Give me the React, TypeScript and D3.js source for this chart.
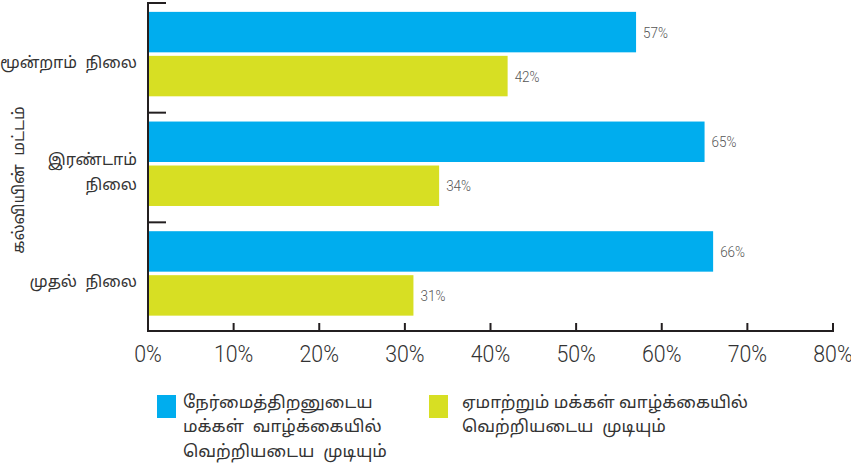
import React, { useEffect, useRef } from 'react';
import * as d3 from 'd3';

const categories = ['மூன்றாம் நிலை', 'இரண்டாம் நிலை', 'முதல் நிலை'];
const categoryLines = [['மூன்றாம்  நிலை'], ['இரண்டாம்', 'நிலை'], ['முதல்  நிலை']];
const honestValues = [57, 65, 66];
const cheatValues = [42, 34, 31];
const xTicks = [0, 10, 20, 30, 40, 50, 60, 70, 80];
const seriesNames = ['honest', 'cheat'];
const legendLines = [
  ['நேர்மைத்திறனுடைய', 'மக்கள்  வாழ்க்கையில்', 'வெற்றியடைய  முடியும்'],
  ['ஏமாற்றும் மக்கள் வாழ்க்கையில்', 'வெற்றியடைய  முடியும்'],
];
const yTitle = 'கல்வியின்  மட்டம்';
const colors = ['#00adee', '#d7df23'];

const W = 851;
const H = 470;
const tamilFont = "'Noto Sans Tamil', 'Lohit Tamil', 'Noto Sans', 'DejaVu Sans', sans-serif";
const numFont = "Roboto, 'Liberation Sans', sans-serif";
const squeeze = 0.87;

const App = () => {
  const svgRef = useRef<SVGSVGElement | null>(null);

  useEffect(() => {
    if (!svgRef.current) return;
    const svg = d3.select(svgRef.current);
    svg.selectAll('*').remove();

    const left = 148;
    const right = 833;
    const top = 2;
    const bottom = 331;

    const x = d3.scaleLinear().domain([0, 80]).range([left, right]);
    const y = d3.scaleBand().domain(categories).range([top, bottom]);
    const inner = d3.scaleBand().domain(seriesNames).range([y.bandwidth() * 0.09, y.bandwidth() * 0.86]).paddingInner(0.08);

    const g = svg.append('g');

    const rows = categories.map((c, i) => ({ c, vals: [honestValues[i], cheatValues[i]], lines: categoryLines[i] }));

    const row = g.selectAll('g.row').data(rows).enter().append('g')
      .attr('transform', d => `translate(0,${y(d.c)})`);

    row.selectAll('rect').data(d => d.vals.map((v, k) => ({ v, k }))).enter().append('rect')
      .attr('x', x(0))
      .attr('y', d => inner(seriesNames[d.k]) as number)
      .attr('width', d => x(d.v) - x(0))
      .attr('height', inner.bandwidth())
      .attr('fill', d => colors[d.k]);

    row.selectAll('text.val').data(d => d.vals.map((v, k) => ({ v, k }))).enter().append('text')
      .attr('class', 'val')
      .attr('transform', d => `translate(${x(d.v) + 7},${(inner(seriesNames[d.k]) as number) + inner.bandwidth() / 2}) scale(${squeeze},1)`)
      .attr('dy', '0.35em')
      .attr('font-family', numFont)
      .attr('font-weight', 300)
      .attr('font-size', 15.5)
      .attr('fill', '#555')
      .text(d => `${d.v}%`);

    row.each(function (d) {
      const sel = d3.select(this);
      const n = d.lines.length;
      const mid = y.bandwidth() * 0.55;
      d.lines.forEach((ln, j) => {
        sel.append('text')
          .attr('x', 137)
          .attr('y', mid + (j - (n - 1) / 2) * 25)
          .attr('dy', '0.35em')
          .attr('text-anchor', 'end')
          .attr('font-family', tamilFont)
          .attr('font-size', 16)
          .attr('fill', '#333')
          .style('white-space', 'pre')
          .text(ln);
      });
    });

    // y ticks at band tops, pointing right
    g.selectAll('line.ytick').data(categories).enter().append('line')
      .attr('x1', left).attr('x2', left + 18)
      .attr('y1', d => (y(d) as number) + 1).attr('y2', d => (y(d) as number) + 1)
      .attr('stroke', '#231f20').attr('stroke-width', 2);

    // axes lines
    g.append('line').attr('x1', left).attr('x2', left).attr('y1', top).attr('y2', bottom + 1)
      .attr('stroke', '#231f20').attr('stroke-width', 2);
    g.append('line').attr('x1', left - 1).attr('x2', right + 1).attr('y1', bottom).attr('y2', bottom)
      .attr('stroke', '#231f20').attr('stroke-width', 2);

    g.selectAll('line.xtick').data(xTicks).enter().append('line')
      .attr('x1', d => x(d)).attr('x2', d => x(d))
      .attr('y1', bottom - 8).attr('y2', bottom)
      .attr('stroke', '#231f20').attr('stroke-width', 2);

    g.selectAll('text.xlab').data(xTicks).enter().append('text')
      .attr('transform', d => `translate(${x(d)},362) scale(${squeeze},1)`)
      .attr('text-anchor', 'middle')
      .attr('font-family', numFont)
      .attr('font-weight', 300)
      .attr('font-size', 24.5)
      .attr('fill', '#333')
      .text(d => `${d}%`);

    g.append('text')
      .attr('transform', `translate(18,180) rotate(-90)`)
      .attr('text-anchor', 'middle')
      .attr('dy', '0.35em')
      .attr('font-family', tamilFont)
      .attr('font-size', 16)
      .attr('fill', '#333')
      .style('white-space', 'pre')
      .text(yTitle);

    // legend
    const legendX = [157, 429];
    legendLines.forEach((lines, k) => {
      g.append('rect').attr('x', legendX[k]).attr('y', 395).attr('width', 19).attr('height', 23).attr('fill', colors[k]);
      lines.forEach((ln, j) => {
        g.append('text')
          .attr('x', legendX[k] + 26 + (k === 1 ? 7 : 0))
          .attr('y', 402 + j * 24.5)
          .attr('dy', '0.35em')
          .attr('font-family', tamilFont)
          .attr('font-size', 17)
          .attr('fill', '#333')
          .style('white-space', 'pre')
          .text(ln);
      });
    });
  }, []);

  return (
    <div style={{ width: W, height: H }}>
      <svg ref={svgRef} width={W} height={H} style={{ position: 'absolute', left: 0, top: 0, background: '#fff' }} />
    </div>
  );
};

export default App;
